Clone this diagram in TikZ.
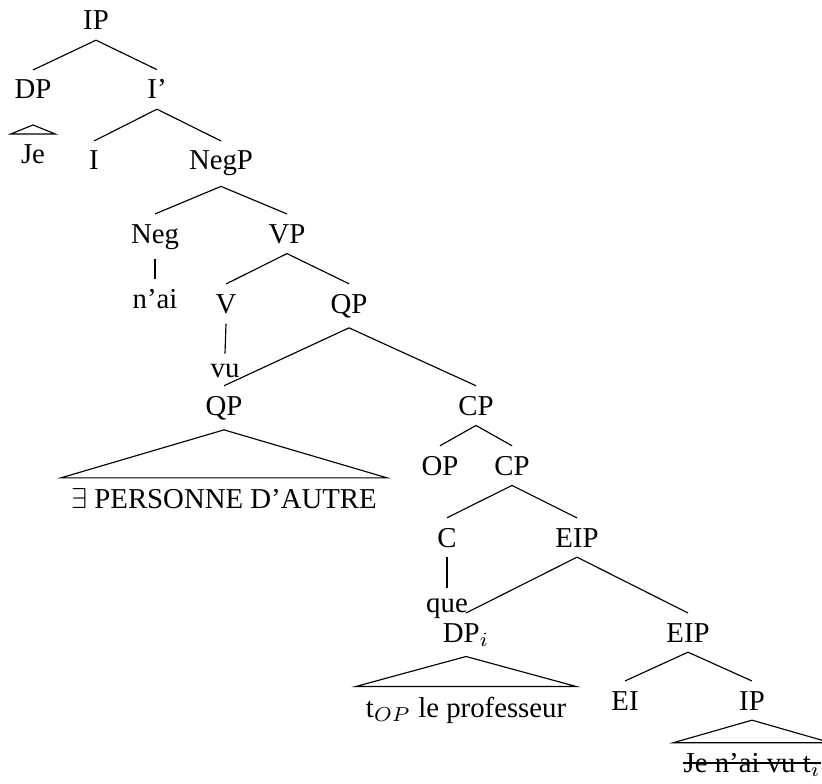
\documentclass[tikz,border=0pt]{standalone}
\usepackage{fontspec}
\setmainfont{Liberation Serif}
\usetikzlibrary{calc}

\begin{document}
\begin{tikzpicture}[x=0.3472pt, y=-0.3472pt,
    every node/.style={anchor=base}]
    \useasboundingbox (0,0) rectangle (822,783);

    % -------------------------------------------------------
    % 1. Upper spine: IP down to QP
    % -------------------------------------------------------
    \node (IP)   at (96,30)   {IP};
    \node (DP)   at (33,99)   {DP};
    \node (Ibar) at (157,99)  {I'};
    \node (Je)   at (33,163)  {Je};
    \node (I)    at (94,170)  {I};
    \node (NegP) at (221,170) {NegP};
    \node (Neg)  at (155,243) {Neg};
    \node (VP)   at (287,243) {VP};
    \node (nai)  at (155,308) {n'ai};
    \node (V)    at (226,313) {V};
    \node (QP)   at (349,313) {QP};
    \node (vu)   at (225,377) {vu};

    \draw (IP.south) -- (DP.north);
    \draw (IP.south) -- (Ibar.north);
    \draw (Ibar.south) -- (I.north);
    \draw (Ibar.south) -- (NegP.north);
    \draw (NegP.south) -- (Neg.north);
    \draw (NegP.south) -- (VP.north);
    \draw (Neg.south) -- (nai.north);
    \draw (VP.south) -- (V.north);
    \draw (VP.south) -- (QP.north);
    \draw (V.south) -- (vu.north);

    % small roof over Je
    \coordinate (JeTop) at ($(Je.north)+(0,-9)$);
    \draw (JeTop) -- (Je.north west) -- (Je.north east) -- cycle;

    % -------------------------------------------------------
    % 2. QP and the relative CP
    % -------------------------------------------------------
    \node (QPlow) at (224,415) {QP};
    \node (CP)    at (476,415) {CP};
    \node (pers)  at (224,508) {$\exists$ PERSONNE D'AUTRE};
    \node (OP)    at (440,475) {OP};
    \node (CPlow) at (512,475) {CP};

    \draw (QP.south) -- (QPlow.north);
    \draw (QP.south) -- (CP.north);
    \draw (QPlow.south) -- (pers.north west) -- (pers.north east) -- cycle;
    \draw (CP.south) -- (OP.north);
    \draw (CP.south) -- (CPlow.north);

    % -------------------------------------------------------
    % 3. C, que and the EIP layers
    % -------------------------------------------------------
    \node (C)      at (447,547) {C};
    \node (EIP)    at (577,547) {EIP};
    \node (que)    at (447,612) {que};
    \node (DPi)    at (466,642) {DP$_i$};
    \node (EIPlow) at (688,642) {EIP};
    \node (prof)   at (466,717) {t$_{OP}$ le professeur};
    \node (EI)     at (625,710) {EI};
    \node (IPlow)  at (752,710) {IP};
    \node (gap)    at (752,772) {Je n'ai vu t$_i$};

    \draw (CPlow.south) -- (C.north);
    \draw (CPlow.south) -- (EIP.north);
    \draw (C.south) -- (que.north);
    \draw (EIP.south) -- (DPi.north);
    \draw (EIP.south) -- (EIPlow.north);
    \draw (DPi.south) -- (prof.north west) -- (prof.north east) -- cycle;
    \draw (EIPlow.south) -- (EI.north);
    \draw (EIPlow.south) -- (IPlow.north);
    \draw (IPlow.south) -- (gap.north west) -- (gap.north east) -- cycle;

    % struck-out copy
    \draw[shorten <=3.33pt, shorten >=3.33pt]
      ($(gap.base west)+(0,-9)$) -- ($(gap.base east)+(0,-9)$);
\end{tikzpicture}
\end{document}
